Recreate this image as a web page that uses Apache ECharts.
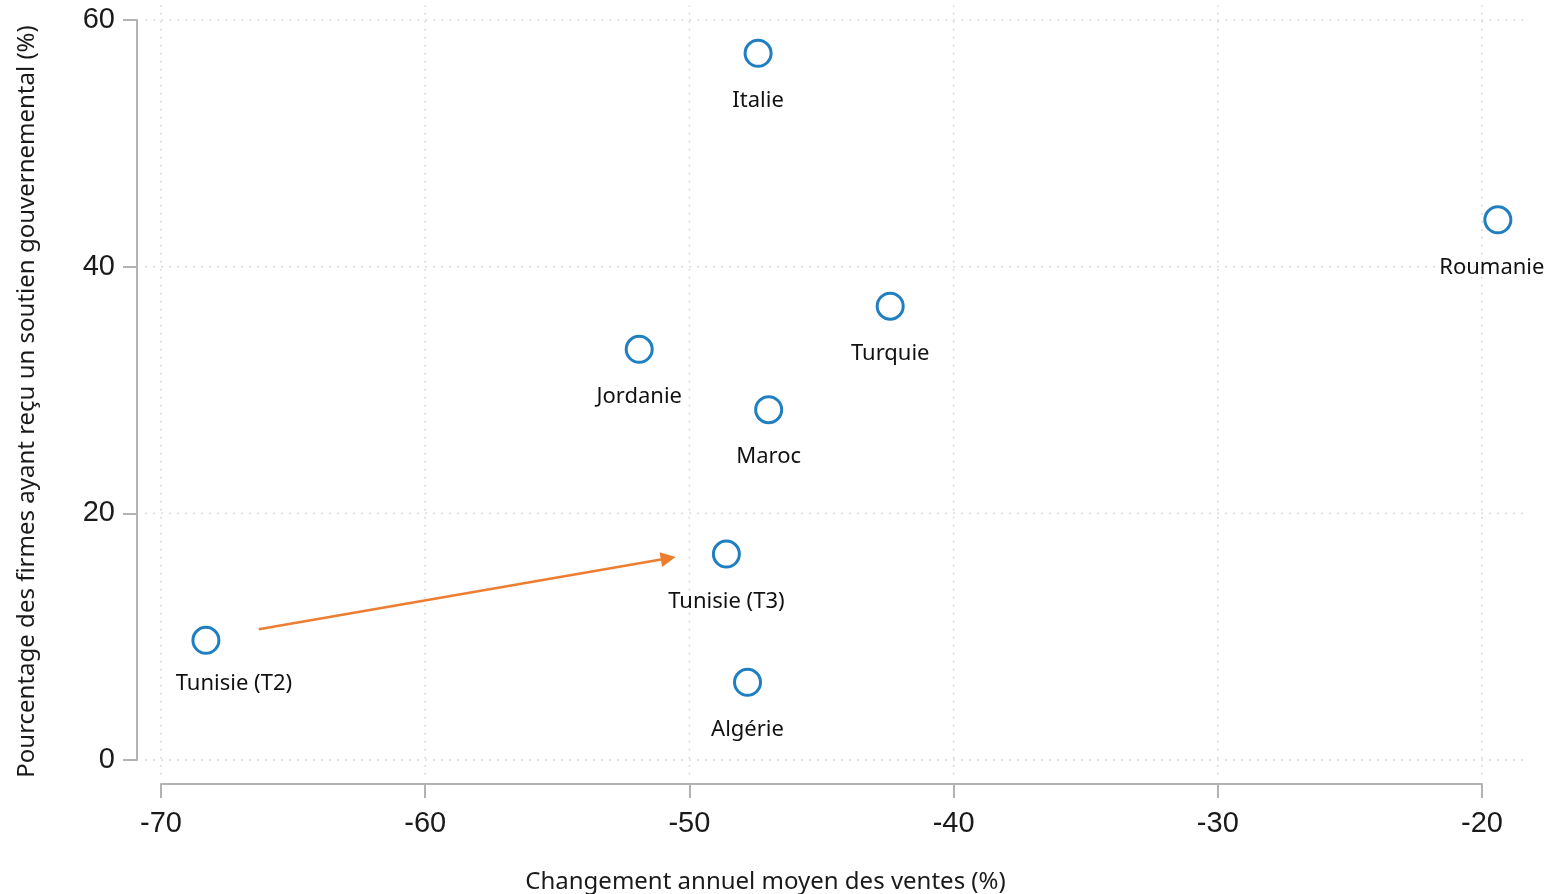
<!DOCTYPE html>
<html>
<head>
<meta charset="utf-8">
<script src="https://cdn.jsdelivr.net/npm/echarts@6/dist/echarts.min.js"></script>
<style>html,body{margin:0;padding:0;background:#fff}#c{width:1552px;height:894px}</style>
</head>
<body>
<div id="c"></div>
<script>
const countries = ['Italie','Roumanie','Turquie','Jordanie','Maroc','Tunisie (T3)','Tunisie (T2)','Algérie'];
const salesChange = [-47.4, -19.4, -42.4, -51.9, -47.0, -48.6, -68.3, -47.8];
const supportPct = [57.3, 43.8, 36.8, 33.3, 28.4, 16.7, 9.7, 6.3];
const xTicks = [-70, -60, -50, -40, -30, -20];
const yTicks = [0, 20, 40, 60];
const arrowFrom = [-66.3, 10.6];
const arrowTo = [-50.8, 16.35];

const labelFont = 'Noto Sans';
const gridColor = '#d9d9d9';
const xExt = [-70.6, -18.4];
const yExt = [-1.2, 61.2];

const points = countries.map((n, i) => {
  const item = { name: n, value: [salesChange[i], supportPct[i]] };
  if (n === 'Tunisie (T2)') item.label = { offset: [28, -4] };
  if (n === 'Roumanie') item.label = { offset: [-6, 0] };
  return item;
});

const chart = echarts.init(document.getElementById('c'), null, { renderer: 'canvas' });
chart.setOption({
  animation: false,
  grid: { left: 161, right: 70, top: 20, bottom: 134, containLabel: false, outerBoundsMode: 'none' },
  xAxis: {
    type: 'value', min: -70, max: -20, interval: 10, offset: 24,
    axisLine: { show: true, onZero: false, lineStyle: { color: '#b3b3b3', width: 2 } },
    axisTick: { show: true, inside: false, length: 14, lineStyle: { color: '#b3b3b3', width: 2 } },
    axisLabel: { margin: 25, fontFamily: 'Liberation Sans', fontSize: 29, color: '#1a1a1a' },
    splitLine: { show: false },
    name: 'Changement annuel moyen des ventes (%)', nameLocation: 'middle', nameGap: 86,
    nameTextStyle: { fontFamily: labelFont, fontSize: 24, color: '#1a1a1a', padding: [0, 112, 0, 0] }
  },
  yAxis: {
    type: 'value', min: 0, max: 60, interval: 20, offset: 24,
    axisLine: { show: true, onZero: false, lineStyle: { color: '#b3b3b3', width: 2 } },
    axisTick: { show: true, inside: false, length: 14, lineStyle: { color: '#b3b3b3', width: 2 } },
    axisLabel: { margin: 22, fontFamily: 'Liberation Sans', fontSize: 29, color: '#1a1a1a' },
    splitLine: { show: false },
    name: 'Pourcentage des firmes ayant reçu un soutien gouvernemental (%)', nameLocation: 'middle', nameGap: 98,
    nameTextStyle: { fontFamily: labelFont, fontSize: 24, color: '#1a1a1a', padding: [0, 23, 0, 0] }
  },
  series: [
    {
      type: 'custom', silent: true, clip: false, z: 0,
      data: yTicks.map(v => [xExt[0], v]),
      renderItem: (params, api) => {
        const a = api.coord([xExt[0], api.value(1)]);
        const b = api.coord([xExt[1], api.value(1)]);
        return { type: 'line', shape: { x1: a[0], y1: a[1], x2: b[0], y2: b[1] },
          style: { stroke: gridColor, lineWidth: 1.5, lineDash: [2, 6] } };
      }
    },
    {
      type: 'custom', silent: true, clip: false, z: 0,
      data: xTicks.map(v => [v, yExt[0]]),
      renderItem: (params, api) => {
        const a = api.coord([api.value(0), yExt[0]]);
        const b = api.coord([api.value(0), yExt[1]]);
        return { type: 'line', shape: { x1: a[0], y1: a[1], x2: b[0], y2: b[1] },
          style: { stroke: gridColor, lineWidth: 1.5, lineDash: [2, 6] } };
      }
    },
    {
      type: 'scatter', z: 3, clip: false,
      symbol: 'circle', symbolSize: 26,
      itemStyle: { color: '#ffffff', borderColor: '#1f7fc0', borderWidth: 3, opacity: 1 },
      label: {
        show: true, position: 'bottom', distance: 22, formatter: '{b}',
        fontFamily: labelFont, fontSize: 22, color: '#111'
      },
      data: points,
      markLine: {
        silent: true, animation: false,
        symbol: ['none', 'triangle'], symbolSize: 15,
        lineStyle: { color: '#ed7d31', width: 2.5, type: 'solid' },
        itemStyle: { color: '#ed7d31' },
        label: { show: false },
        data: [[{ coord: arrowFrom }, { coord: arrowTo }]]
      }
    }
  ]
});
</script>
</body>
</html>
